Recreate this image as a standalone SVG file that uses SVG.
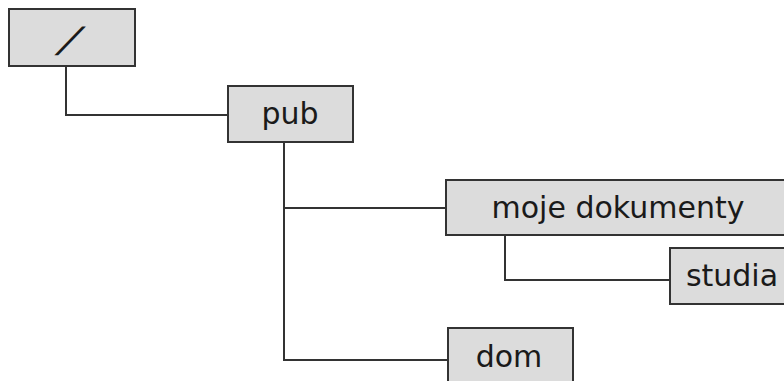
<svg xmlns="http://www.w3.org/2000/svg" width="784" height="381" viewBox="0 0 784 381">
  <style>
    .box { fill: #dcdcdc; stroke: #333333; stroke-width: 2; }
    .lbl { font-family: "DejaVu Sans", "Liberation Sans", sans-serif; font-size: 30px; fill: #1a1a1a; text-anchor: middle; }
    .wire { fill: none; stroke: #333333; stroke-width: 2; }
  </style>
  <rect width="784" height="381" fill="#ffffff"/>

  <!-- tree connectors -->
  <g id="connectors">
    <path class="wire" d="M66,67 V115 H228"/>
    <path class="wire" d="M284,142 V360 H448"/>
    <path class="wire" d="M284,208 H446"/>
    <path class="wire" d="M505,236 V280 H670"/>
  </g>

  <g id="root">
    <rect class="box" x="9" y="9" width="126" height="57"/>
    <text class="lbl" transform="translate(63,52) skewX(-33)" x="0" y="0" style="font-size:35px;font-weight:bold">/</text>
  </g>

  <g id="pub">
    <rect class="box" x="228" y="86" width="125" height="56"/>
    <text class="lbl" x="290" y="124">pub</text>
  </g>

  <g id="moje-dokumenty">
    <rect class="box" x="446" y="180" width="346" height="55"/>
    <text class="lbl" x="618" y="218">moje dokumenty</text>
  </g>

  <g id="studia">
    <rect class="box" x="670" y="248" width="124" height="56"/>
    <text class="lbl" x="732" y="286">studia</text>
  </g>

  <g id="dom">
    <rect class="box" x="448" y="328" width="125" height="60"/>
    <text class="lbl" x="509" y="367">dom</text>
  </g>
</svg>
